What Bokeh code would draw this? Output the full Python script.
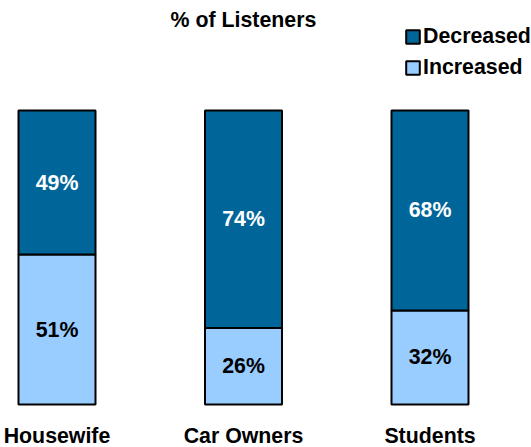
from bokeh.plotting import figure
from bokeh.models import ColumnDataSource, Range1d, Legend, LegendItem, Label
from bokeh.core.properties import value
from bokeh.embed import file_html
from bokeh.resources import INLINE

categories = ["Housewife", "Car Owners", "Students"]
increased = [51, 26, 32]
decreased = [49, 74, 68]
series_names = ["Decreased", "Increased"]
title_text = "% of Listeners"

DARK = "#006699"
LIGHT = "#99CCFF"
FONT = "Liberation Sans"
FS = "16pt"

W, H = 531, 447
step = 186.5          # px between bar centers
first_c = 56.5        # px of first bar center
ppu = 2.94            # px per percent
base_px = 404         # bar base from top
bar_w = 77 / step

xs = list(range(len(categories)))
src = ColumnDataSource(dict(
    x=xs,
    Increased=increased,
    Decreased=decreased,
    inc_mid=[v / 2 for v in increased],
    dec_mid=[i + d / 2 for i, d in zip(increased, decreased)],
    inc_lbl=[f"{v}%" for v in increased],
    dec_lbl=[f"{v}%" for v in decreased],
    cat=categories,
    cat_y=[-(435 - base_px) / ppu] * len(categories),
))

p = figure(width=W, height=H, output_backend="svg", toolbar_location=None,
           min_border=0, min_border_left=0, min_border_right=0,
           min_border_top=0, min_border_bottom=0)
p.x_range = Range1d(-first_c / step, (W - first_c) / step)
p.y_range = Range1d(-(H - base_px) / ppu, 100 + (base_px - 100 * ppu) / ppu)
p.axis.visible = False
p.grid.visible = False
p.outline_line_color = None
p.background_fill_color = "white"
p.border_fill_color = "white"

rs = p.vbar_stack(["Increased", "Decreased"], x="x", width=bar_w, source=src,
                  fill_color=[LIGHT, DARK], line_color="black", line_width=2)

p.text(x="x", y="inc_mid", text="inc_lbl", source=src, text_color="black",
       text_font=value(FONT), text_font_style="bold", text_font_size=FS,
       text_align="center", text_baseline="middle")
p.text(x="x", y="dec_mid", text="dec_lbl", source=src, text_color="white",
       text_font=value(FONT), text_font_style="bold", text_font_size=FS,
       text_align="center", text_baseline="middle")
p.text(x="x", y="cat_y", text="cat", source=src, text_color="black",
       text_font=value(FONT), text_font_style="bold", text_font_size=FS,
       text_align="center", text_baseline="middle")

p.add_layout(Label(x=243, y=H - 19, x_units="screen", y_units="screen",
                   text=title_text, text_font=FONT, text_font_style="bold",
                   text_font_size=FS, text_align="center",
                   text_baseline="middle", text_color="black"))

legend = Legend(items=[LegendItem(label=series_names[0], renderers=[rs[1]]),
                       LegendItem(label=series_names[1], renderers=[rs[0]])],
                location=(404, H - 80), orientation="vertical",
                glyph_width=17, glyph_height=17, label_height=17,
                spacing=6, padding=0, margin=0, label_standoff=2,
                border_line_color=None, background_fill_alpha=0,
                label_text_font=FONT, label_text_font_style="bold",
                label_text_font_size=FS, label_text_color="black")
p.add_layout(legend)

open("out.html", "w").write(file_html(p, INLINE))
